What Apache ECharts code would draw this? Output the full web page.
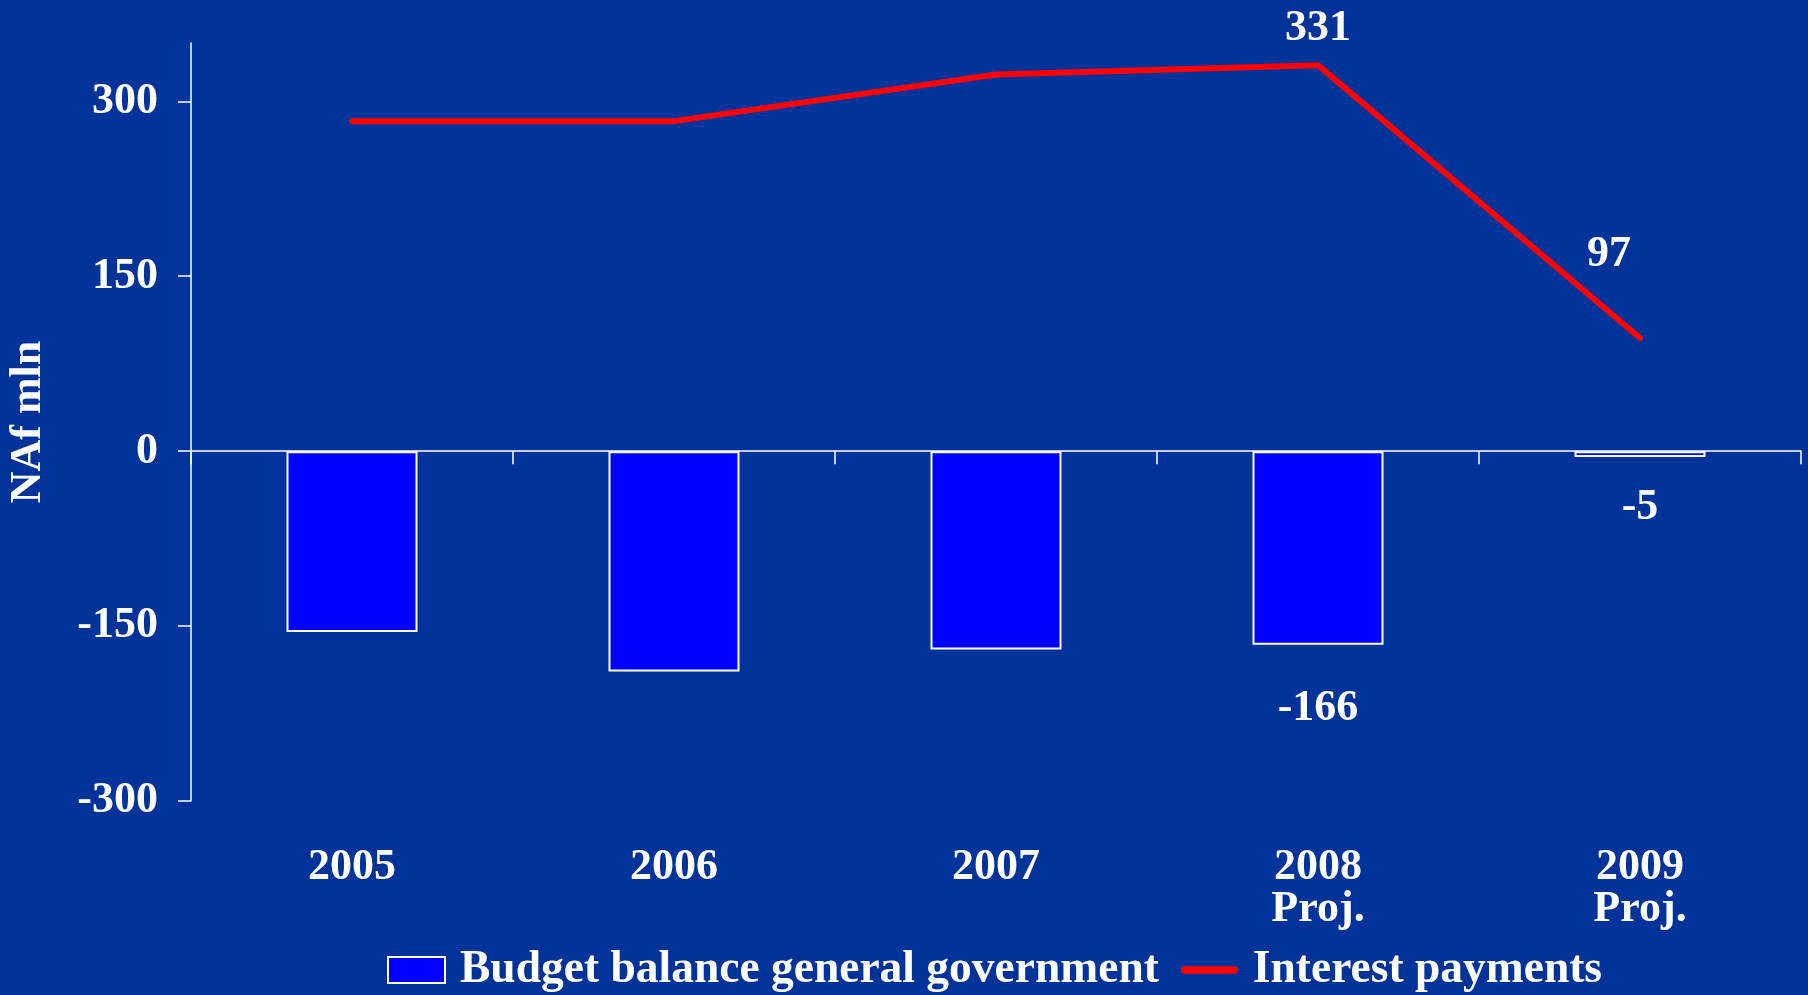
<!DOCTYPE html>
<html>
<head>
<meta charset="utf-8">
<title>Budget balance and interest payments</title>
<script src="https://cdn.jsdelivr.net/npm/echarts@6/dist/echarts.min.js"></script>
<style>
  html, body { margin: 0; padding: 0; background: #003399; }
  #chart { width: 1808px; height: 995px; }
</style>
</head>
<body>
<div id="chart"></div>
<script>
// Years on the category axis (second line marks projections)
var categories = ['2005', '2006', '2007', '2008\nProj.', '2009\nProj.'];
// Budget balance of the general government, NAf mln
var budgetBalance = [-155, -189, -170, -166, -5];
// Interest payments, NAf mln
var interestPayments = [283, 283, 323, 331, 97];
// Value-axis ticks
var yTicks = [-300, -150, 0, 150, 300];

var FONT = '"Liberation Serif", "DejaVu Serif", serif';
var WHITE = '#ffffff';
var RED = '#ff0000';

// Only a few points carry a value label
var barLabelDistance = {3: 42, 4: 29};
var barData = budgetBalance.map(function (v, i) {
  var item = { value: v };
  if (barLabelDistance[i] !== undefined) {
    item.label = { show: true, position: 'bottom', distance: barLabelDistance[i] };
  }
  return item;
});
var lineData = interestPayments.map(function (v, i) {
  var item = { value: v };
  if (i === 3) item.label = { show: true, position: 'top', distance: 14 };
  if (i === 4) item.label = { show: true, position: 'top', distance: 5, offset: [-31, -56] };
  return item;
});

var chart = echarts.init(document.getElementById('chart'), null, { renderer: 'canvas' });
chart.setOption({
  backgroundColor: '#003399',
  animation: false,
  textStyle: { fontFamily: FONT },
  grid: { left: 191, right: 7, top: 43, bottom: 194, containLabel: false, outerBoundsMode: 'none' },
  legend: {
    left: 382,
    top: 942,
    itemWidth: 57,
    itemHeight: 26,
    itemGap: 22,
    symbolKeepAspect: true,
    textStyle: { color: WHITE, fontSize: 45.5, fontWeight: 'bold', fontFamily: FONT, padding: [0, 0, 0, 10] },
    data: [
      { name: 'Budget balance general government', icon: 'rect' },
      {
        name: 'Interest payments',
        icon: 'path://M4,0 L55,0 A4,4 0 0 1 55,8 L4,8 A4,4 0 0 1 4,0 Z',
        itemStyle: { color: RED, borderWidth: 0 }
      }
    ]
  },
  xAxis: [
    {
      type: 'category',
      data: categories,
      position: 'bottom',
      axisLine: { onZero: true, lineStyle: { color: WHITE, width: 1.5 } },
      axisTick: { show: true, length: 13, inside: false, lineStyle: { color: WHITE, width: 1.5 } },
      axisLabel: { show: false },
      splitLine: { show: false }
    },
    {
      type: 'category',
      data: categories,
      position: 'bottom',
      axisLine: { show: false, onZero: false },
      axisTick: { show: false },
      axisLabel: {
        show: true, color: WHITE, fontSize: 44, fontWeight: 'bold', fontFamily: FONT,
        margin: 46, lineHeight: 42
      },
      splitLine: { show: false }
    }
  ],
  yAxis: {
    type: 'value',
    min: -300,
    max: 350,
    name: 'NAf mln',
    nameLocation: 'middle',
    nameGap: 140,
    nameRotate: 90,
    nameTextStyle: { color: WHITE, fontSize: 44, fontWeight: 'bold', fontFamily: FONT },
    axisLine: { show: true, lineStyle: { color: WHITE, width: 1.5 } },
    axisTick: { show: true, length: 13, inside: false, customValues: yTicks, lineStyle: { color: WHITE, width: 1.5 } },
    axisLabel: {
      customValues: yTicks,
      color: WHITE, fontSize: 44, fontWeight: 'bold', fontFamily: FONT, margin: 33
    },
    splitLine: { show: false }
  },
  series: [
    {
      name: 'Budget balance general government',
      type: 'bar',
      xAxisIndex: 0,
      data: barData,
      barWidth: 131,
      itemStyle: { color: '#0000ff', borderColor: WHITE, borderWidth: 2 },
      label: { show: false, color: WHITE, fontSize: 44, fontWeight: 'bold', fontFamily: FONT }
    },
    {
      name: 'Interest payments',
      type: 'line',
      xAxisIndex: 0,
      data: lineData,
      symbol: 'circle',
      symbolSize: 1,
      showSymbol: true,
      lineStyle: { color: RED, width: 6, cap: 'round', join: 'round' },
      itemStyle: { color: RED },
      label: { show: false, color: WHITE, fontSize: 44, fontWeight: 'bold', fontFamily: FONT }
    }
  ]
});
</script>
</body>
</html>
